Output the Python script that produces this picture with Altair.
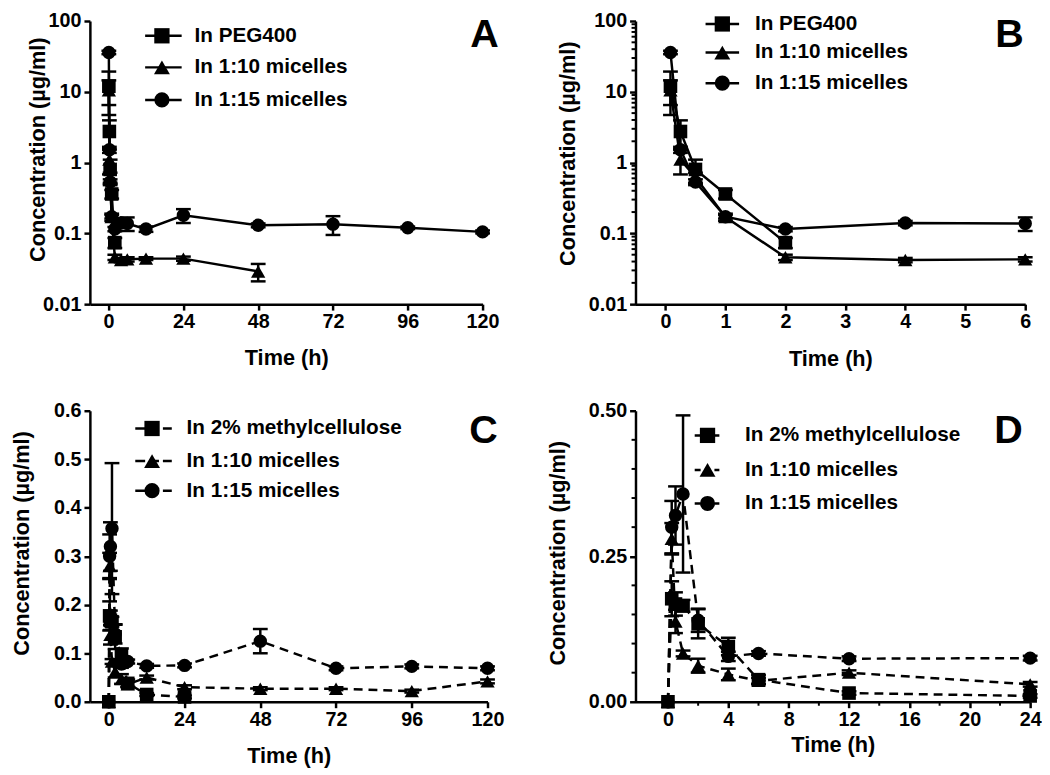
import altair as alt
import pandas as pd

FONT = "Liberation Sans"

# ---------------- data ----------------
# Panels A/B : intravenous
iv_labels = ["In PEG400", "In 1:10 micelles", "In 1:15 micelles"]
iv_peg_t = [0.083, 0.25, 0.5, 1, 2]
iv_peg_m = [12.0, 2.75, 0.80, 0.36, 0.074]
iv_peg_sd = [7.3, 1.2, 0.30, 0.05, 0.012]

iv_m10_t = [0.083, 0.25, 0.5, 1, 2, 4, 6, 12, 24, 48]
iv_m10_m = [10.5, 1.1, 0.62, 0.17, 0.046, 0.042, 0.043, 0.044, 0.044, 0.029]
iv_m10_sd = [4.0, 0.42, 0.10, 0.02, 0.004, 0.003, 0.003, 0.002, 0.003, 0.008]

iv_m15_t = [0.083, 0.25, 0.5, 1, 2, 4, 6, 12, 24, 48, 72, 96, 120]
iv_m15_m = [36.0, 1.52, 0.53, 0.172, 0.115, 0.14, 0.138, 0.115, 0.18, 0.13, 0.135, 0.12, 0.105]
iv_m15_sd = [2.0, 0.15, 0.05, 0.01, 0.008, 0.01, 0.03, 0.01, 0.04, 0.008, 0.04, 0.005, 0.005]

# Panels C/D : oral
po_labels = ["In 2% methylcellulose", "In 1:10 micelles", "In 1:15 micelles"]
po_mc_t = [0, 0.25, 0.5, 1, 2, 4, 6, 12, 24]
po_mc_m = [0.0, 0.177, 0.168, 0.165, 0.134, 0.095, 0.038, 0.015, 0.010]
po_mc_sd = [0.0, 0.030, 0.020, 0.010, 0.025, 0.015, 0.008, 0.003, 0.003]

po_m10_t = [0, 0.25, 0.5, 1, 2, 4, 6, 12, 24, 48, 72, 96, 120]
po_m10_m = [0.0, 0.280, 0.138, 0.083, 0.062, 0.047, 0.036, 0.050, 0.030, 0.027, 0.027, 0.022, 0.042]
po_m10_sd = [0.0, 0.027, 0.020, 0.005, 0.012, 0.010, 0.005, 0.004, 0.004, 0.003, 0.003, 0.003, 0.004]

po_m15_t = [0, 0.25, 0.5, 1, 2, 4, 6, 12, 24, 48, 72, 96, 120]
po_m15_m = [0.0, 0.300, 0.320, 0.357, 0.140, 0.078, 0.083, 0.074, 0.075, 0.125, 0.069, 0.073, 0.069]
po_m15_sd = [0.0, 0.045, 0.050, 0.135, 0.020, 0.008, 0.004, 0.004, 0.004, 0.025, 0.004, 0.004, 0.004]

SHAPES = ["square", "triangle-up", "circle"]
SIZES = [190, 210, 185]
LEG_SIZES = [240, 260, 235]

# tick values
A_x_ticks = [0, 24, 48, 72, 96, 120]
B_x_ticks = [0, 1, 2, 3, 4, 5, 6]
C_x_ticks = [0, 24, 48, 72, 96, 120]
D_x_ticks = [0, 4, 8, 12, 16, 20, 24]
D_x_minor = [2, 6, 10, 14, 18, 22]
log_ticks = [0.01, 0.1, 1, 10, 100]
log_minor = [k * 10.0 ** e for e in range(-2, 2) for k in range(2, 10)]
C_y_ticks = [0.0, 0.1, 0.2, 0.3, 0.4, 0.5, 0.6]
D_y_ticks = [0.0, 0.25, 0.5]
D_y_minor = [0.05, 0.10, 0.15, 0.20, 0.30, 0.35, 0.40, 0.45]


def long_df(labels, ts, ms, sds, tmax):
    rows = []
    for lab, t, m, s in zip(labels, ts, ms, sds):
        for ti, mi, si in zip(t, m, s):
            if ti <= tmax:
                rows.append({"series": lab, "t": ti, "m": mi, "sd": si,
                             "lo": mi - si, "hi": mi + si})
    return pd.DataFrame(rows)


one = alt.Chart(pd.DataFrame({"k": [0]}))


def make_panel(df, labels, *, width, height, x_domain, x_values, y_domain, y_values,
               y_log, y_format, dash, leg, letter, letter_xy, ytitle_xy, xtitle_y,
               minor_x=None, minor_y=None):
    xs = alt.Scale(domain=x_domain, nice=False, zero=False)
    if y_log:
        ys = alt.Scale(type="log", domain=y_domain, nice=False)
    else:
        ys = alt.Scale(domain=y_domain, nice=False, zero=False)
    xax = alt.Axis(values=x_values, title="Time (h)", format="d", titleY=xtitle_y,
                   titleBaseline="middle", grid=False, labelFlush=False,
                   labelOverlap=False, labelPadding=2)
    yax = alt.Axis(values=y_values, title="Concentration (µg/ml)", format=y_format,
                   titleX=ytitle_xy[0], titleY=ytitle_xy[1], titleAngle=270,
                   titleAlign="center", titleBaseline="middle", grid=False,
                   labelFlush=False, labelOverlap=False, labelPadding=3)
    X = alt.X("t:Q", scale=xs, axis=xax)

    def Y(f):
        return alt.Y(f, scale=ys, axis=yax)

    base = alt.Chart(df)
    layers = []
    if minor_y:
        layers.append(alt.Chart(pd.DataFrame({"m": minor_y})).mark_rule(
            color="black", strokeWidth=2).encode(y=Y("m:Q"), x=alt.value(0), x2=alt.value(-4)))
    if minor_x:
        layers.append(alt.Chart(pd.DataFrame({"t": minor_x})).mark_rule(
            color="black", strokeWidth=2).encode(x=X, y=alt.value(height), y2=alt.value(height + 4)))

    line_kw = dict(color="black", strokeWidth=2.5)
    if dash:
        line_kw["strokeDash"] = dash
    layers.append(base.mark_line(**line_kw).encode(x=X, y=Y("m:Q"), detail="series:N"))

    eb = base.transform_filter("datum.sd > 0")
    layers.append(eb.mark_rule(color="black", strokeWidth=2.5).encode(
        x=X, y=Y("lo:Q"), y2="hi:Q"))
    for f in ["lo:Q", "hi:Q"]:
        layers.append(eb.mark_tick(color="black", orient="horizontal", size=15,
                                   thickness=2.5, opacity=1).encode(x=X, y=Y(f)))

    for lab, shp, sz in zip(labels, SHAPES, SIZES):
        layers.append(base.transform_filter(alt.datum.series == lab).mark_point(
            filled=True, opacity=1, color="black", shape=shp, size=sz,
            strokeWidth=0).encode(x=X, y=Y("m:Q")))

    # legend drawn inside the panel
    for i, lab in enumerate(labels):
        yy = leg["rows"][i]
        rk = dict(color="black", strokeWidth=2.5)
        if dash:
            rk["strokeDash"] = leg["dash"]
        layers.append(one.mark_rule(**rk).encode(
            x=alt.value(leg["x0"]), x2=alt.value(leg["x1"]), y=alt.value(yy)))
        layers.append(one.mark_point(filled=True, opacity=1, color="black",
                                     shape=SHAPES[i], size=LEG_SIZES[i], strokeWidth=0).encode(
            x=alt.value(leg["sx"]), y=alt.value(yy)))
        layers.append(one.mark_text(text=lab, align="left", baseline="middle", font=FONT,
                                    fontSize=21, fontWeight="bold", color="black").encode(
            x=alt.value(leg["tx"]), y=alt.value(yy)))

    layers.append(one.mark_text(text=letter, align="center", baseline="alphabetic",
                                font=FONT, fontSize=40, fontWeight="bold",
                                color="black").encode(
        x=alt.value(letter_xy[0]), y=alt.value(letter_xy[1])))

    return alt.layer(*layers).properties(width=width, height=height)


dfA = long_df(iv_labels, [iv_peg_t, iv_m10_t, iv_m15_t], [iv_peg_m, iv_m10_m, iv_m15_m],
              [iv_peg_sd, iv_m10_sd, iv_m15_sd], 120)
dfB = long_df(iv_labels, [iv_peg_t, iv_m10_t, iv_m15_t], [iv_peg_m, iv_m10_m, iv_m15_m],
              [iv_peg_sd, iv_m10_sd, iv_m15_sd], 6)
dfC = long_df(po_labels, [po_mc_t, po_m10_t, po_m15_t], [po_mc_m, po_m10_m, po_m15_m],
              [po_mc_sd, po_m10_sd, po_m15_sd], 120)
dfD = long_df(po_labels, [po_mc_t, po_m10_t, po_m15_t], [po_mc_m, po_m10_m, po_m15_m],
              [po_mc_sd, po_m10_sd, po_m15_sd], 24)

pA = make_panel(dfA, iv_labels, width=398, height=287, x_domain=[-6, 120], x_values=A_x_ticks,
                y_domain=[0.01, 100], y_values=log_ticks, y_log=True, y_format="~g",
                dash=None, leg=dict(x0=56, x1=93, sx=73, tx=106, rows=[15, 47, 80]),
                letter="A", letter_xy=[400, 26], ytitle_xy=[-53, 130], xtitle_y=54)
pB = make_panel(dfB, iv_labels, width=395, height=287, x_domain=[-0.5, 6], x_values=B_x_ticks,
                y_domain=[0.01, 100], y_values=log_ticks, y_log=True, y_format="~g",
                dash=None, leg=dict(x0=71, x1=105, sx=88, tx=121, rows=[3, 32, 63]),
                letter="B", letter_xy=[379, 26], ytitle_xy=[-69, 134], xtitle_y=55,
                minor_y=log_minor)
pC = make_panel(dfC, po_labels, width=403, height=295, x_domain=[-6, 120], x_values=C_x_ticks,
                y_domain=[0, 0.6], y_values=C_y_ticks, y_log=False, y_format=".1f",
                dash=[9, 6], leg=dict(x0=46, x1=83, sx=63, tx=98, rows=[18, 51, 81], dash=[10, 4]),
                letter="C", letter_xy=[399, 33], ytitle_xy=[-69, 134], xtitle_y=55)
pD = make_panel(dfD, po_labels, width=400, height=295, x_domain=[-2.15, 24], x_values=D_x_ticks,
                y_domain=[0, 0.5], y_values=D_y_ticks, y_log=False, y_format=".2f",
                dash=[9, 6], leg=dict(x0=60, x1=85, sx=73, tx=111, rows=[25, 60, 94], dash=[6, 4]),
                letter="D", letter_xy=[378, 33], ytitle_xy=[-79, 144], xtitle_y=43,
                minor_x=D_x_minor, minor_y=D_y_minor)

chart = alt.concat(pA, pB, pC, pD, columns=2, bounds="flush",
                   spacing={"row": 108, "column": 150}).properties(
    padding={"left": 2, "top": -3, "right": 0, "bottom": 0}
).configure_view(stroke="transparent").configure_axis(
    domainColor="black", domainWidth=2.5, tickColor="black", tickWidth=2.5, tickSize=6,
    labelFont=FONT, labelFontSize=20, labelFontWeight="bold", labelColor="black",
    titleFont=FONT, titleFontSize=22, titleFontWeight="bold", titleColor="black",
    grid=False
)

chart.save("out.html", embed_options={"renderer": "svg", "actions": False})
